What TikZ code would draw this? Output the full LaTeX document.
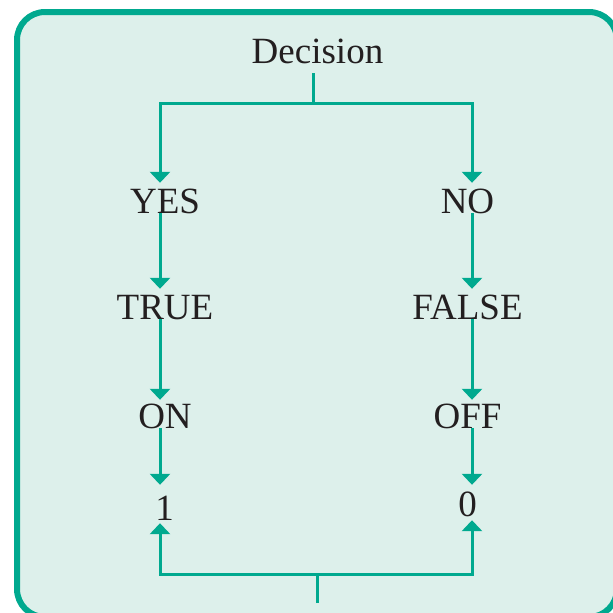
\documentclass[tikz,border=0pt]{standalone}
\usepackage{fontspec}
\setmainfont{Liberation Serif}
\usetikzlibrary{arrows.meta}

\definecolor{panelfill}{HTML}{DDF0EB}
\definecolor{teal}{HTML}{00A98F}
\definecolor{ink}{HTML}{231F20}

\tikzset{
  panel/.style={draw=teal, fill=panelfill, line width=6pt, rounded corners=28pt},
  link/.style={draw=teal, line width=3pt},
  flow/.style={link, -{Triangle[width=20pt,length=11pt]}},
  label/.style={anchor=base, inner sep=0pt, text=ink, text height=30pt, text depth=0pt,
    font=\fontsize{37}{40}\selectfont},
}

\begin{document}
\begin{tikzpicture}[x=1pt,y=-1pt]
  \useasboundingbox (0,0) rectangle (613,613);
  \begin{scope}
    \clip (0,0) rectangle (613,613);
    \path[panel] (17,12) rectangle (617,617);
  \end{scope}

  % columns of the two branches
  \coordinate (L) at (160,0);
  \coordinate (R) at (472,0);

  % labels
  \node[label, text depth=10pt] (decision) at (317.5,63) {Decision};
  \node[label] (yes)   at (165,213)   {YES};
  \node[label] (no)    at (467.5,213) {NO};
  \node[label] (true)  at (165,319)   {TRUE};
  \node[label] (false) at (467.5,319) {FALSE};
  \node[label, text height=28pt] (on)  at (165,428)   {ON};
  \node[label, text height=28pt] (off) at (467.5,428) {OFF};
  \node[label, text height=35pt, text depth=3pt] (one)  at (164.5,520) {1};
  \node[label, text height=31pt, text depth=4pt] (zero) at (467.5,516) {0};

  % split below the decision
  \coordinate (dsplit) at (313,103);
  \draw[link] (decision.south -| dsplit) -- (dsplit);
  \draw[flow] (dsplit) -| (yes.north -| L);
  \draw[flow] (dsplit) -| (no.north -| R);

  % chains down each branch
  \draw[flow] (yes.south -| L) -- (true.north -| L);
  \draw[flow] (true.south -| L) -- (on.north -| L);
  \draw[flow] (on.south -| L) -- (one.north -| L);
  \draw[flow] (no.south -| R) -- (false.north -| R);
  \draw[flow] (false.south -| R) -- (off.north -| R);
  \draw[flow] (off.south -| R) -- (zero.north -| R);

  % feed from below into both results
  \coordinate (bsplit) at (317,574);
  \coordinate (bfoot) at (317,603);
  \draw[link] (bfoot) -- (bsplit);
  \draw[flow] (bsplit) -| (one.south -| L);
  \draw[flow] (bsplit) -| (zero.south -| R);
\end{tikzpicture}
\end{document}
